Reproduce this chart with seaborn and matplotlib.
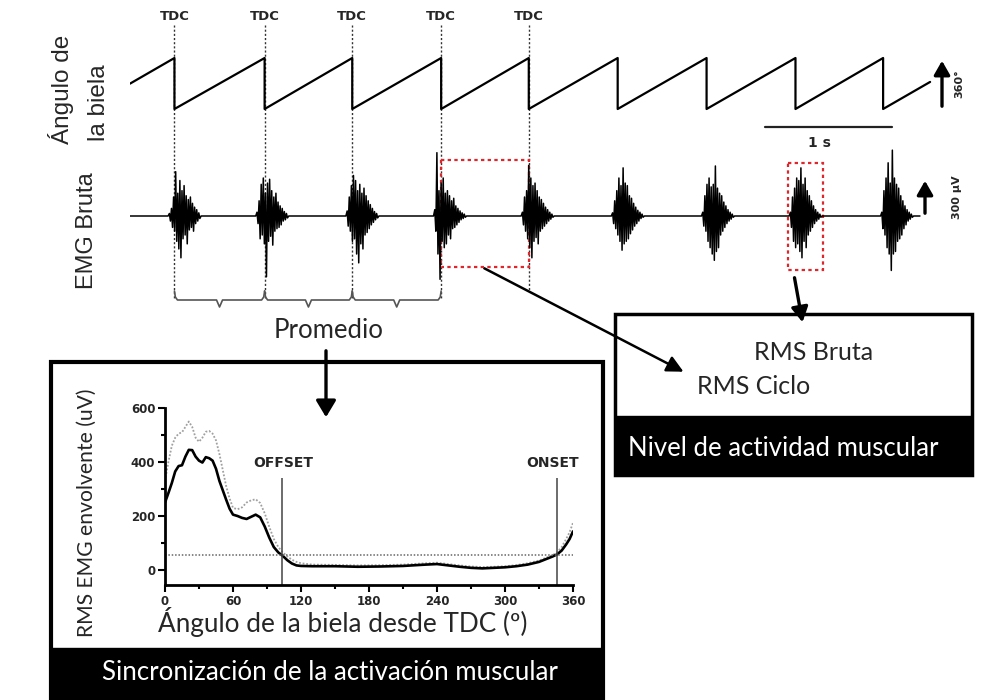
import numpy as np
import pandas as pd
import seaborn as sns
import matplotlib
matplotlib.use("Agg")
import matplotlib.pyplot as plt
from matplotlib.patches import Rectangle, FancyArrowPatch

sns.set_theme(style="white")
plt.rcParams['font.family'] = ['Lato', 'DejaVu Sans']

# ---------------- data ----------------
# crank cycle timing (s) -- TDC instants
tdc_times = [0.35, 1.06, 1.75, 2.45, 3.14, 3.84, 4.54, 5.24, 5.93]
trace_start, trace_end = 0.0, 6.30
angle_start, angle_end = 179, 191          # crank angle (deg) at trace start / end
tdc_labels = ["TDC", "TDC", "TDC", "TDC", "TDC"]

# raw EMG bursts: centre time (s) and successive peak amplitudes (uV)
burst_centres = [0.43, 1.12, 1.83, 2.52, 3.21, 3.92, 4.63, 5.32, 6.04]
burst_width = 0.24
emg_b1 = [20, -40, 60, -90, 150, -120, 350, -200, 180, -260, 280, -330, 200, -180, 240, -150, 160, -220, 130, -110,
          150, -90, 100, -120, 70, -60, 50, -40, 25, -20]
emg_b2 = [30, -60, 120, -180, 250, -150, 300, -220, 180, -480, 260, -200, 290, -160, 200, -230, 150, -120, 180, -100,
          110, -90, 80, -70, 60, -40, 35, -30, 20, -15]
emg_b3 = [40, -80, 150, -120, 240, -200, 320, -180, 280, -300, 200, -370, 250, -220, 180, -260, 220, -150, 160, -130,
          120, -100, 90, -70, 60, -50, 35, -30, 20, -15]
emg_b4 = [50, -120, 500, -300, 200, -500, 260, -200, 300, -250, 180, -220, 200, -150, 160, -180, 120, -100, 140, -90,
          80, -70, 60, -50, 40, -30, 25, -20, 15, -10]
emg_b5 = [30, -70, 150, -120, 200, -180, 400, -250, 300, -330, 240, -200, 260, -170, 200, -220, 150, -120, 130, -100,
          100, -80, 70, -60, 50, -40, 30, -25, 15, -10]
emg_b6 = [25, -60, 120, -100, 200, -150, 300, -200, 240, -270, 380, -220, 260, -200, 240, -180, 160, -140, 140, -110,
          100, -80, 70, -60, 45, -40, 30, -20, 15, -10]
emg_b7 = [30, -80, 160, -120, 250, -200, 300, -250, 230, -300, 250, -350, 395, -280, 220, -250, 180, -150, 160, -120,
          110, -90, 80, -60, 50, -40, 30, -25, 15, -10]
emg_b8 = [30, -90, 150, -200, 220, -250, 300, -220, 280, -280, 380, -330, 250, -200, 300, -250, 200, -150, 160, -120,
          120, -90, 80, -60, 50, -40, 30, -25, 15, -10]
emg_b9 = [30, -100, 200, -150, 300, -250, 420, -300, 260, -430, 520, -300, 300, -280, 250, -200, 220, -180, 160, -150,
          120, -100, 80, -70, 50, -40, 30, -25, 15, -10]
emg_bursts = [emg_b1, emg_b2, emg_b3, emg_b4, emg_b5, emg_b6, emg_b7, emg_b8, emg_b9]

# averaged RMS envelope over one crank cycle
env_angle = [0, 3, 6, 9, 12, 15, 18, 21, 24, 27, 30, 33, 36, 39, 42, 45, 48, 51, 54, 57, 60, 64, 68, 72, 76,
             80, 84, 88, 92, 96, 100, 104, 108, 112, 116, 120, 130, 150, 170, 190, 210, 230, 240, 250, 260,
             270, 280, 290, 300, 310, 320, 330, 336, 342, 346, 350, 354, 357, 360]
env_mean = [250, 285, 322, 365, 385, 388, 420, 445, 444, 420, 405, 398, 418, 414, 405, 375, 330, 295, 260, 227,
            205, 200, 193, 189, 197, 205, 195, 161, 120, 85, 65, 52, 36, 24, 17, 15, 14, 14, 12, 13, 15, 20,
            22, 17, 12, 8, 6, 8, 10, 14, 20, 30, 40, 50, 58, 72, 95, 115, 143]
env_upper = [330, 400, 460, 490, 505, 510, 530, 550, 530, 490, 475, 490, 512, 515, 505, 480, 430, 370, 310, 265,
             230, 225, 232, 250, 258, 262, 248, 210, 160, 115, 85, 65, 50, 38, 30, 25, 20, 19, 17, 18, 20, 25,
             27, 22, 17, 13, 11, 12, 14, 18, 25, 35, 45, 55, 65, 85, 115, 140, 175]
threshold = 55
offset_angle, onset_angle = 103, 346
x_ticks = [0, 60, 120, 180, 240, 300, 360]
y_ticks = [0, 200, 400, 600]

# ---------------- figure ----------------
W, H = 1007, 700
fig = plt.figure(figsize=(W / 100, H / 100), dpi=100)
fig.patch.set_facecolor("white")

# overlay in pixel coordinates for the diagram frame
ov = fig.add_axes([0, 0, 1, 1])
ov.set_xlim(0, W); ov.set_ylim(H, 0); ov.axis("off")

PX0, PXS = 130, 127.0          # pixel of t=0 and pixels per second
def px(t):
    return PX0 + t * PXS

t_max = (980 - PX0) / PXS

# time-guide axes (x = s, y = pixel rows)
ax_v = fig.add_axes([PX0 / W, 0, (980 - PX0) / W, 1])
ax_v.set_xlim(0, t_max); ax_v.set_ylim(H, 0); ax_v.axis("off"); ax_v.patch.set_alpha(0)

# crank-angle axes (pixel rows 10..150)
ax_a = fig.add_axes([PX0 / W, 1 - 150 / H, (980 - PX0) / W, 140 / H])
ax_a.set_xlim(0, t_max)
deg_per_px = 360 / (109 - 58)
ax_a.set_ylim(-(150 - 109) * deg_per_px, 360 + (58 - 10) * deg_per_px)
ax_a.axis("off"); ax_a.patch.set_alpha(0)

saw_t = [trace_start]
saw_a = [angle_start]
for t in tdc_times:
    saw_t += [t, t]
    saw_a += [360, 0]
saw_t.append(trace_end); saw_a.append(angle_end)
sns.lineplot(x=saw_t, y=saw_a, ax=ax_a, estimator=None, sort=False, color="black", linewidth=1.6)

# 360 deg arrow & 1 s scale bar
t_arr = (942 - PX0) / PXS
ax_a.annotate("", xy=(t_arr, 360), xytext=(t_arr, 0),
              arrowprops=dict(arrowstyle="-|>,head_width=0.4,head_length=0.7", color="black", lw=2.4))
ax_a.text((959 - PX0) / PXS, 180, "360°", rotation=90, ha="center", va="center",
          fontsize=8, fontweight="bold", family="DejaVu Sans")
ax_a.plot([5.0, 6.0], [-(127 - 109) * deg_per_px] * 2, color="#222", lw=1.6)
ax_a.text(5.43, -(143 - 109) * deg_per_px, "1 s", ha="center", va="center",
          fontsize=10, fontweight="bold", family="DejaVu Sans")

# raw EMG axes (pixel rows 140..290)
ax_e = fig.add_axes([PX0 / W, 1 - 290 / H, (980 - PX0) / W, 150 / H])
ax_e.set_xlim(0, t_max)
uv_per_px = 300 / 38
ax_e.set_ylim(-(290 - 216) * uv_per_px, (216 - 140) * uv_per_px)
ax_e.axis("off"); ax_e.patch.set_alpha(0)

emg_t = [trace_start]
emg_v = [0]
for c, amps in zip(burst_centres, emg_bursts):
    n = len(amps)
    ts = c - burst_width / 2 + np.arange(n) * burst_width / (n - 1)
    emg_t += [c - burst_width / 2 - 0.01] + list(ts) + [c + burst_width / 2 + 0.01]
    emg_v += [0] + list(amps) + [0]
emg_t.append(6.22); emg_v.append(0)
sns.lineplot(x=emg_t, y=emg_v, ax=ax_e, estimator=None, sort=False, color="black", linewidth=1.1)
t_arr2 = (925 - PX0) / PXS
ax_e.annotate("", xy=(t_arr2, 300), xytext=(t_arr2, 0),
              arrowprops=dict(arrowstyle="-|>,head_width=0.4,head_length=0.7", color="black", lw=2.4))
ax_e.text((957 - PX0) / PXS, 150, "300 µV", rotation=90, ha="center", va="center",
          fontsize=8, fontweight="bold", family="DejaVu Sans")

# TDC labels, dotted guides, braces, red boxes
for i, lab in enumerate(tdc_labels):
    t = tdc_times[i]
    ax_v.text(t, 16, lab, ha="center", va="center", fontsize=9.5, fontweight="bold", family="DejaVu Sans")
    ax_v.plot([t, t], [25, 298 if i < 4 else 290], color="#333", lw=1.0, ls=(0, (1.5, 1.5)))
d = 3 / PXS
for i in range(3):
    x0, x1 = tdc_times[i], tdc_times[i + 1]
    m = (x0 + x1) / 2
    ax_v.plot([x0, x0 + 0.3 * d, x0 + d, m - d, m, m + d, x1 - d, x1 - 0.3 * d, x1],
              [291, 297, 300, 300, 307, 300, 300, 297, 291], color="#555", lw=1.2)
ax_v.add_patch(Rectangle((tdc_times[3], 160), tdc_times[4] - tdc_times[3], 107, fill=False,
                         edgecolor="#e0262b", lw=1.6, ls=(0, (1.5, 1.5)), zorder=5))
ax_v.add_patch(Rectangle((burst_centres[7] - 0.14, 163), 0.28, 107, fill=False,
                         edgecolor="#e0262b", lw=1.6, ls=(0, (1.5, 1.5)), zorder=5))

# side titles
ov.text(61, 89, "Ángulo de", rotation=90, ha="center", va="center", fontsize=17.5, family="Liberation Sans")
ov.text(99, 103, "la biela", rotation=90, ha="center", va="center", fontsize=17.5, family="Liberation Sans")
ov.text(87, 231, "EMG Bruta", rotation=90, ha="center", va="center", fontsize=17, family="Liberation Sans")

# Promedio + arrow
ov.text(329, 330, "Promedio", ha="center", va="center", fontsize=18.5)
ov.add_patch(FancyArrowPatch((326, 348), (326, 420), arrowstyle="-|>,head_width=6,head_length=10",
                             color="black", lw=2.4, mutation_scale=1, zorder=6))

# right box
ov.add_patch(Rectangle((615, 314), 357, 161, facecolor="white", edgecolor="black", lw=2.5, zorder=1))
ov.add_patch(Rectangle((615, 416), 357, 59, facecolor="black", edgecolor="black", lw=1, zorder=2))
ov.text(628, 449, "Nivel de actividad muscular", color="white", ha="left", va="center", fontsize=18.5, zorder=3)
ov.text(754, 353, "RMS Bruta", ha="left", va="center", fontsize=18, zorder=3)
ov.text(697, 386, "RMS Ciclo", ha="left", va="center", fontsize=18, zorder=3)
ov.add_patch(FancyArrowPatch((px(2.77), 267), (686, 373), arrowstyle="-|>,head_width=5,head_length=10",
                             color="black", lw=1.8, mutation_scale=1, zorder=4))
ov.add_patch(FancyArrowPatch((794, 275), (803, 325), arrowstyle="-|>,head_width=5,head_length=9",
                             color="black", lw=2.4, mutation_scale=1, zorder=4))

# left box
ov.add_patch(Rectangle((51, 362), 552, 340, facecolor="white", edgecolor="black", lw=3, zorder=1))
ov.add_patch(Rectangle((51, 648), 552, 54, facecolor="black", edgecolor="black", lw=1, zorder=2))
ov.text(330, 672, "Sincronización de la activación muscular", color="white", ha="center", va="center",
        fontsize=18.6, zorder=3)
ov.text(87, 513, "RMS EMG envolvente (uV)", rotation=90, ha="center", va="center", fontsize=15.2, zorder=3)
ov.text(343, 622, "Ángulo de la biela desde TDC (º)", ha="center", va="center", fontsize=18.8, zorder=3)

# envelope plot
L, R, B, T0, T600 = 165, 573, 585, 570, 408
k = (T0 - T600) / 600.0
ymin = -(B - T0) / k
ax_r = fig.add_axes([L / W, 1 - B / H, (R - L) / W, (B - T600) / H])
ax_r.patch.set_alpha(0)
env = pd.DataFrame({"angle": env_angle, "mean": env_mean, "upper": env_upper})
sns.lineplot(data=env, x="angle", y="upper", ax=ax_r, color="#a0a0a0", lw=1.3, ls=(0, (1, 1)))
sns.lineplot(data=env, x="angle", y="mean", ax=ax_r, color="black", lw=1.9)
ax_r.axhline(threshold, color="#666", lw=1.1, ls=(0, (1, 1.2)))
ax_r.vlines([offset_angle, onset_angle], ymin, 341, color="#444", lw=1.1)
ax_r.text(104, 396, "OFFSET", ha="center", va="center", fontsize=10, fontweight="bold",
          family="DejaVu Sans")
ax_r.text(342, 396, "ONSET", ha="center", va="center", fontsize=10, fontweight="bold", family="DejaVu Sans")
ax_r.set_xlim(0, 360); ax_r.set_ylim(ymin, 600)
ax_r.set_xticks(x_ticks); ax_r.set_yticks(y_ticks)
ax_r.set_xticks(np.arange(30, 360, 60), minor=True)
ax_r.set_yticks([100, 300, 500], minor=True)
ax_r.set_xlabel(""); ax_r.set_ylabel("")
for s in ["top", "right"]:
    ax_r.spines[s].set_visible(False)
for s in ["left", "bottom"]:
    ax_r.spines[s].set_color("black"); ax_r.spines[s].set_linewidth(2)
ax_r.tick_params(which="both", direction="out", color="black", width=1.5, bottom=True, left=True)
ax_r.tick_params(which="major", length=5, labelsize=8.5, pad=2)
ax_r.tick_params(which="minor", length=3)
for lab in ax_r.get_xticklabels() + ax_r.get_yticklabels():
    lab.set_fontweight("bold"); lab.set_family("DejaVu Sans")

fig.savefig("out.png", dpi=100, facecolor="white")
